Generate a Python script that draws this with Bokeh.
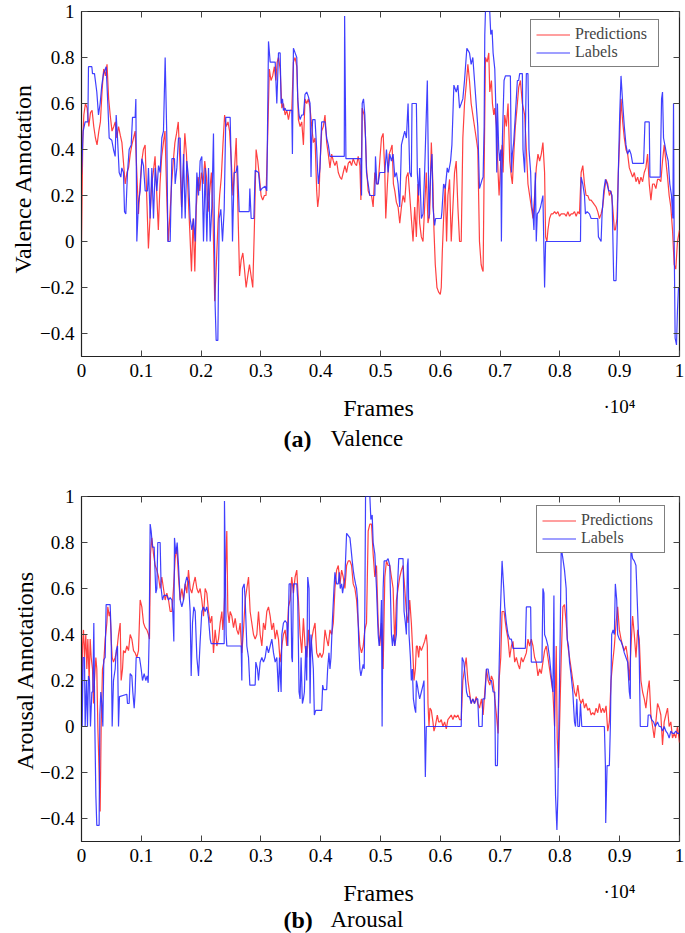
import math
from bokeh.plotting import figure
from bokeh.models import Range1d, LinearAxis, FixedTicker
from bokeh.core.properties import value
from bokeh.layouts import column, row
from bokeh.embed import file_html
from bokeh.resources import INLINE

FONT = "Liberation Serif"

x_ticks = [0, 1000, 2000, 3000, 4000, 5000, 6000, 7000, 8000, 9000, 10000]
x_tick_labels = ["0", "0.1", "0.2", "0.3", "0.4", "0.5", "0.6", "0.7", "0.8", "0.9", "1"]
y_ticks = [-0.4, -0.2, 0, 0.2, 0.4, 0.6, 0.8, 1]
y_tick_labels = ["\u22120.4", "\u22120.2", "0", "0.2", "0.4", "0.6", "0.8", "1"]

# ---- Valence: labels (frame, value) ----
valence_labels = [
    (0,0.29),(28,0.48),(61,0.52),(106,0.52),(117,0.76),(173,0.76),(184,0.73),(217,0.73),(256,0.65),(284,0.55),
    (312,0.6),(340,0.68),(368,0.73),(412,0.76),(440,0.6),(463,0.45),(507,0.44),(535,0.4),(563,0.37),(580,0.55),
    (602,0.45),(630,0.3),(658,0.28),(674,0.32),(702,0.3),(719,0.13),(741,0.12),(769,0.3),(797,0.4),(831,0.42),
    (853,0.54),(897,0.54),(909,0.62),(925,0.0),(953,0.17),(981,0.22),(1009,0.36),(1037,0.33),(1065,0.22),(1104,0.22),
    (1120,0.32),(1148,0.1),(1176,0.32),(1204,0.1),(1232,0.32),(1260,0.22),(1288,0.33),(1315,0.3),(1343,0.45),(1371,0.48),
    (1399,0.8),(1427,0.45),(1444,0.0),(1483,0.0),(1511,0.36),(1555,0.36),(1566,0.25),(1594,0.32),(1622,0.45),(1650,0.45),
    (1678,0.1),(1706,0.38),(1734,0.1),(1761,0.35),(1789,0.28),(1817,0.1),(1845,0.05),(1873,0.1),(1901,0.0),(1929,0.3),
    (1957,0.2),(1984,0.35),(2012,0.37),(2040,0.0),(2068,0.32),(2096,0.0),(2124,0.32),(2152,0.0),(2179,0.15),(2207,0.47),
    (2235,-0.28),(2252,-0.43),(2280,-0.43),(2302,0.1),(2330,0.14),(2358,0.0),(2386,0.14),(2413,0.54),(2486,0.54),(2514,0.2),
    (2525,0.0),(2553,0.3),(2581,0.3),(2609,0.33),(2637,0.13),(2804,0.13),(2815,0.23),(2837,0.1),(2882,0.1),(2904,0.31),
    (2960,0.3),(2988,0.22),(3016,0.23),(3071,0.24),(3099,0.22),(3127,0.87),(3155,0.78),(3239,0.78),(3266,0.6),(3294,0.82),
    (3322,0.82),(3338,0.6),(3361,0.62),(3377,0.57),(3405,0.58),(3416,0.57),(3516,0.57),(3527,0.38),(3544,0.84),(3572,0.82),
    (3600,0.8),(3616,0.62),(3638,0.55),(3655,0.53),(3683,0.55),(3711,0.55),(3738,0.64),(3766,0.65),(3794,0.63),(3822,0.6),
    (3838,0.28),(3850,0.45),(3866,0.53),(3905,0.53),(3933,0.4),(3950,0.3),(3961,0.25),(3988,0.32),(4016,0.52),(4072,0.52),
    (4100,0.45),(4127,0.42),(4155,0.37),(4394,0.37),(4400,0.98),(4422,0.36),(4672,0.36),(4683,0.2),(4694,0.6),(4716,0.62),
    (4738,0.55),(4766,0.3),(4794,0.25),(4822,0.2),(4905,0.2),(4916,0.37),(4939,0.25),(4961,0.25),(4988,0.3),(5072,0.3),
    (5100,0.4),(5127,0.3),(5155,0.38),(5183,0.35),(5211,0.38),(5239,0.28),(5266,0.3),(5294,0.25),(5322,0.15),(5350,0.42),
    (5377,0.45),(5405,0.48),(5433,0.45),(5461,0.6),(5489,0.3),(5516,0.28),(5527,0.6),(5600,0.6),(5616,0.3),(5638,0.2),
    (5655,0.32),(5683,0.1),(5711,0.12),(5738,0.3),(5766,0.55),(5783,0.7),(5811,0.1),(5839,0.3),(5861,0.38),(5877,0.15),
    (5905,0.07),(5922,0.1),(6016,0.1),(6027,0.13),(6055,0.25),(6083,0.23),(6116,0.32),(6138,0.3),(6172,0.35),(6194,0.42),
    (6227,0.68),(6266,0.65),(6294,0.68),(6322,0.58),(6350,0.6),(6377,0.62),(6405,0.7),(6444,0.84),(6488,0.82),(6516,0.77),
    (6544,0.8),(6572,0.7),(6627,0.5),(6655,0.23),(6700,0.27),(6716,0.28),(6733,0.5),(6744,0.9),(6755,1.0),(6827,1.0),
    (6844,0.9),(6866,0.92),(6883,0.82),(6911,0.75),(6927,0.6),(6944,0.3),(6955,0.6),(6977,0.4),(6994,0.35),(7011,0.4),
    (7022,0.0),(7039,0.45),(7066,0.7),(7089,0.72),(7172,0.72),(7189,0.3),(7205,0.38),(7227,0.43),(7255,0.55),(7289,0.7),
    (7311,0.7),(7327,0.73),(7372,0.73),(7383,0.4),(7411,0.3),(7439,0.73),(7466,0.73),(7483,0.4),(7511,0.3),(7522,0.2),
    (7533,0.15),(7550,0.12),(7566,0.05),(7589,0.3),(7605,0.0),(7622,0.12),(7650,0.13),(7677,0.15),(7716,0.2),(7744,-0.2),
    (7761,0.0),(8344,0.0),(8355,0.28),(8383,0.25),(8411,0.2),(8427,0.12),(8455,0.13),(8494,0.12),(8522,0.1),(8633,0.1),
    (8644,0.02),(8689,0.0),(8705,0.12),(8733,0.22),(8761,0.27),(8789,0.25),(8816,0.22),(8844,0.22),(8872,0.2),(8900,-0.17),
    (8939,-0.17),(8955,0.0),(8977,0.3),(9000,0.55),(9022,0.72),(9050,0.6),(9077,0.5),(9105,0.42),(9133,0.38),(9161,0.4),
    (9189,0.38),(9216,0.34),(9400,0.34),(9422,0.52),(9494,0.52),(9505,0.28),(9677,0.28),(9700,0.62),(9716,0.65),(9733,0.45),
    (9755,0.42),(9783,0.38),(9811,0.35),(9838,0.25),(9866,0.2),(9889,0.1),(9900,0.6),(9911,0.0),(9927,-0.42),(9950,-0.45),
    (9966,-0.3),(9983,-0.2),(10000,-0.2),
]

# ---- Valence: predictions ----
valence_predictions = [
    (0,0.0),(22,0.45),(39,0.55),(66,0.6),(94,0.58),(122,0.5),(150,0.56),(177,0.57),(205,0.5),(233,0.45),
    (260,0.42),(290,0.48),(316,0.52),(345,0.66),(371,0.75),(400,0.72),(427,0.77),(454,0.62),(480,0.55),(510,0.48),
    (540,0.5),(565,0.52),(590,0.45),(620,0.5),(650,0.46),(676,0.43),(700,0.35),(731,0.25),(760,0.3),(787,0.32),
    (815,0.38),(842,0.42),(870,0.45),(897,0.48),(925,0.3),(953,0.12),(980,0.25),(1008,0.35),(1035,0.4),(1064,0.42),
    (1090,0.2),(1119,-0.03),(1145,0.1),(1174,0.25),(1200,0.3),(1230,0.37),(1260,0.2),(1285,0.05),(1313,0.25),(1341,0.37),
    (1370,0.43),(1396,0.48),(1425,0.2),(1451,0.0),(1480,0.12),(1507,0.25),(1535,0.35),(1562,0.43),(1590,0.47),(1618,0.52),
    (1645,0.35),(1673,0.15),(1700,0.3),(1728,0.47),(1755,0.38),(1784,0.2),(1810,0.05),(1839,-0.13),(1867,0.1),(1895,-0.13),
    (1920,0.15),(1950,0.28),(1978,0.22),(2005,0.3),(2033,0.25),(2061,0.35),(2090,0.28),(2116,0.13),(2145,0.22),(2172,0.3),
    (2200,0.1),(2227,-0.26),(2255,-0.1),(2283,0.08),(2310,0.2),(2338,0.28),(2365,0.42),(2393,0.55),(2420,0.5),(2450,0.52),
    (2476,0.48),(2505,0.35),(2532,0.2),(2560,0.32),(2587,0.45),(2615,0.15),(2643,-0.15),(2670,-0.08),(2698,-0.05),(2725,-0.12),
    (2753,-0.2),(2780,-0.15),(2809,-0.1),(2836,-0.15),(2864,-0.2),(2890,0.05),(2920,0.4),(2948,0.35),(2975,0.28),(3003,0.2),
    (3030,0.18),(3058,0.2),(3086,0.2),(3113,0.45),(3141,0.75),(3169,0.7),(3197,0.72),(3225,0.76),(3250,0.7),(3272,0.78),
    (3294,0.8),(3322,0.75),(3350,0.58),(3377,0.6),(3405,0.55),(3433,0.57),(3461,0.53),(3488,0.57),(3516,0.57),(3544,0.78),
    (3572,0.8),(3600,0.76),(3627,0.53),(3655,0.5),(3683,0.52),(3711,0.42),(3738,0.62),(3766,0.6),(3794,0.62),(3822,0.58),
    (3850,0.5),(3877,0.43),(3905,0.45),(3933,0.22),(3950,0.15),(3972,0.2),(3988,0.33),(4016,0.48),(4044,0.5),(4072,0.55),
    (4100,0.43),(4127,0.38),(4155,0.32),(4183,0.38),(4211,0.35),(4238,0.33),(4266,0.35),(4294,0.3),(4322,0.28),(4350,0.27),
    (4377,0.3),(4405,0.33),(4433,0.3),(4461,0.34),(4489,0.35),(4516,0.33),(4544,0.36),(4572,0.34),(4600,0.33),(4627,0.37),
    (4655,0.33),(4672,0.18),(4694,0.58),(4727,0.55),(4750,0.45),(4766,0.32),(4794,0.22),(4822,0.2),(4850,0.2),(4877,0.15),
    (4905,0.3),(4933,0.25),(4961,0.25),(4988,0.35),(5016,0.45),(5044,0.47),(5072,0.3),(5088,0.1),(5116,0.25),(5144,0.38),
    (5172,0.4),(5194,0.42),(5216,0.25),(5239,0.22),(5266,0.17),(5294,0.15),(5322,0.08),(5350,0.15),(5377,0.2),(5405,0.17),
    (5433,0.28),(5461,0.3),(5489,0.2),(5516,0.1),(5544,0.0),(5572,0.15),(5600,0.02),(5627,0.25),(5655,0.08),(5683,0.02),
    (5711,0.0),(5738,0.15),(5766,0.3),(5794,0.08),(5822,0.12),(5850,0.43),(5877,0.25),(5894,0.05),(5916,-0.1),(5944,-0.2),
    (5972,-0.22),(6000,-0.23),(6016,-0.2),(6033,-0.05),(6055,0.1),(6083,0.25),(6105,0.0),(6127,0.2),(6155,0.27),(6183,0.0),
    (6211,0.15),(6238,0.3),(6266,0.35),(6294,0.15),(6322,0.0),(6350,0.0),(6377,0.45),(6405,0.6),(6433,0.68),(6461,0.77),
    (6488,0.7),(6516,0.6),(6544,0.55),(6572,0.5),(6600,0.45),(6627,0.4),(6655,0.0),(6683,-0.1),(6700,-0.12),(6716,-0.13),
    (6733,0.3),(6755,0.8),(6783,0.78),(6811,0.82),(6827,0.65),(6855,0.7),(6872,0.6),(6894,0.55),(6911,0.58),(6939,0.5),
    (6966,0.3),(6983,0.2),(7011,0.35),(7033,0.42),(7050,0.3),(7077,0.55),(7105,0.5),(7133,0.6),(7161,0.35),(7189,0.28),
    (7205,0.25),(7233,0.4),(7255,0.5),(7289,0.6),(7311,0.67),(7339,0.7),(7372,0.6),(7411,0.55),(7439,0.4),(7466,0.25),
    (7494,0.2),(7522,0.15),(7550,0.1),(7577,0.2),(7605,0.32),(7633,0.38),(7661,0.35),(7689,0.38),(7716,0.43),(7744,0.3),
    (7761,0.02),(7783,0.0),(7800,0.05),(7827,0.1),(7855,0.12),(7883,0.12),(7911,0.13),(7939,0.12),(7966,0.13),(7994,0.11),
    (8022,0.12),(8050,0.12),(8077,0.12),(8105,0.11),(8133,0.13),(8161,0.11),(8189,0.12),(8216,0.12),(8244,0.13),(8272,0.11),
    (8300,0.13),(8327,0.12),(8355,0.3),(8383,0.33),(8411,0.25),(8438,0.2),(8466,0.2),(8494,0.18),(8522,0.18),(8550,0.17),
    (8577,0.16),(8605,0.15),(8633,0.13),(8661,0.1),(8689,0.12),(8716,0.15),(8744,0.22),(8772,0.27),(8800,0.25),(8827,0.2),
    (8855,0.22),(8883,0.15),(8911,0.05),(8927,0.05),(8955,0.1),(8977,0.3),(9000,0.45),(9022,0.62),(9050,0.52),(9077,0.45),
    (9105,0.4),(9133,0.38),(9161,0.32),(9189,0.3),(9216,0.28),(9244,0.3),(9272,0.26),(9300,0.28),(9327,0.25),(9355,0.28),
    (9383,0.26),(9411,0.3),(9438,0.32),(9466,0.38),(9494,0.25),(9522,0.18),(9550,0.25),(9577,0.25),(9605,0.23),(9633,0.27),
    (9661,0.27),(9688,0.26),(9716,0.35),(9744,0.42),(9772,0.35),(9800,0.28),(9827,0.2),(9855,0.15),(9883,0.05),(9911,-0.1),
    (9938,-0.12),(9966,0.0),(10000,0.05),
]

# ---- Arousal: labels ----
arousal_labels = [
    (0,0.35),(11,0.0),(28,0.3),(50,0.3),(61,0.0),(84,0.2),(100,0.0),(117,0.22),(134,0.2),(150,0.0),
    (173,0.15),(190,0.15),(206,0.45),(223,0.0),(240,-0.3),(256,-0.43),(295,-0.43),(307,0.05),(323,0.15),(340,0.1),
    (357,0.0),(373,0.29),(396,0.3),(412,0.53),(479,0.53),(496,0.4),(513,0.0),(535,0.2),(563,0.25),(580,0.33),
    (602,0.35),(619,0.0),(635,0.13),(758,0.14),(769,0.1),(797,0.1),(814,0.23),(842,0.22),(858,0.15),(881,0.08),
    (897,0.15),(914,0.3),(970,0.3),(998,0.25),(1020,0.2),(1048,0.23),(1076,0.2),(1098,0.22),(1115,0.19),(1132,0.4),
    (1148,0.88),(1165,0.85),(1187,0.78),(1215,0.78),(1243,0.58),(1260,0.6),(1276,0.8),(1315,0.8),(1332,0.6),(1354,0.55),
    (1377,0.57),(1427,0.57),(1455,0.55),(1483,0.56),(1511,0.55),(1527,0.5),(1544,0.37),(1555,0.82),(1577,0.75),(1600,0.8),
    (1622,0.7),(1650,0.55),(1678,0.52),(1706,0.55),(1734,0.62),(1761,0.65),(1789,0.63),(1817,0.5),(1834,0.22),(1856,0.45),
    (1878,0.52),(1901,0.5),(1929,0.3),(1957,0.22),(1984,0.37),(2012,0.5),(2040,0.52),(2068,0.5),(2096,0.52),(2124,0.47),
    (2152,0.38),(2168,0.36),(2386,0.36),(2391,0.98),(2419,0.4),(2430,0.35),(2670,0.35),(2681,0.2),(2692,0.6),(2720,0.62),
    (2737,0.55),(2765,0.35),(2793,0.3),(2815,0.18),(2904,0.18),(2915,0.28),(2943,0.25),(2960,0.2),(2988,0.28),(3016,0.3),
    (3043,0.28),(3071,0.3),(3099,0.35),(3127,0.32),(3155,0.35),(3183,0.38),(3211,0.32),(3239,0.28),(3266,0.3),(3294,0.15),
    (3311,0.3),(3338,0.15),(3350,0.4),(3377,0.45),(3405,0.46),(3433,0.45),(3450,0.35),(3472,0.62),(3500,0.62),(3516,0.3),
    (3527,0.28),(3544,0.62),(3600,0.62),(3616,0.55),(3638,0.15),(3655,0.12),(3672,0.3),(3694,0.1),(3711,0.12),(3727,0.15),
    (3750,0.35),(3766,0.2),(3783,0.65),(3805,0.6),(3822,0.1),(3838,0.4),(3850,0.35),(3877,0.25),(3894,0.05),(3916,0.07),
    (4016,0.07),(4033,0.18),(4050,0.16),(4100,0.16),(4116,0.25),(4138,0.32),(4155,0.25),(4172,0.3),(4194,0.45),(4222,0.6),
    (4238,0.67),(4266,0.62),(4294,0.62),(4311,0.67),(4327,0.6),(4350,0.62),(4366,0.58),(4388,0.62),(4405,0.65),(4433,0.84),
    (4461,0.83),(4489,0.82),(4505,0.78),(4527,0.72),(4544,0.68),(4561,0.65),(4583,0.62),(4600,0.6),(4616,0.55),(4638,0.35),
    (4655,0.25),(4672,0.22),(4694,0.25),(4711,0.27),(4727,0.25),(4738,0.5),(4750,1.0),(4822,1.0),(4839,0.9),(4861,0.92),
    (4877,0.8),(4905,0.75),(4933,0.6),(4961,0.4),(4977,0.35),(5000,0.4),(5016,0.55),(5027,0.0),(5044,0.6),(5061,0.72),
    (5100,0.72),(5127,0.73),(5155,0.7),(5183,0.4),(5200,0.35),(5216,0.4),(5239,0.35),(5266,0.4),(5283,0.6),(5305,0.73),
    (5377,0.73),(5394,0.5),(5416,0.45),(5433,0.4),(5450,0.7),(5461,0.73),(5477,0.4),(5500,0.3),(5516,0.2),(5533,0.25),
    (5550,0.12),(5572,0.08),(5589,0.06),(5600,0.2),(5616,0.18),(5633,0.15),(5655,0.12),(5683,0.15),(5711,0.18),(5727,0.2),
    (5738,0.0),(5750,-0.22),(5766,0.0),(6350,0.0),(6366,0.3),(6394,0.28),(6416,0.22),(6439,0.15),(6461,0.13),(6488,0.13),
    (6516,0.1),(6544,0.12),(6572,0.1),(6600,0.12),(6627,0.12),(6644,0.0),(6700,0.0),(6711,0.12),(6744,0.12),(6772,0.25),
    (6800,0.25),(6827,0.2),(6855,0.2),(6883,0.15),(6911,0.15),(6922,-0.17),(6955,-0.17),(6966,0.0),(6983,0.25),(7005,0.5),
    (7033,0.72),(7061,0.6),(7077,0.52),(7105,0.45),(7133,0.4),(7161,0.38),(7189,0.38),(7216,0.34),(7422,0.34),(7439,0.52),
    (7511,0.52),(7522,0.28),(7700,0.28),(7716,0.6),(7733,0.58),(7744,0.4),(7772,0.38),(7800,0.35),(7827,0.3),(7855,0.22),
    (7883,0.15),(7900,0.57),(7911,0.0),(7927,-0.3),(7950,-0.45),(7966,-0.3),(7983,0.0),(8005,0.4),(8022,0.78),(8050,0.73),
    (8077,0.68),(8105,0.6),(8122,0.38),(8144,0.35),(8161,0.28),(8189,0.22),(8216,0.15),(8244,0.02),(8261,0.0),(8283,0.12),
    (8300,0.0),(8327,0.0),(8344,0.1),(8366,0.0),(8744,0.0),(8761,-0.17),(8766,-0.42),(8789,-0.17),(8827,-0.17),(8844,0.0),
    (8866,0.4),(8889,0.42),(8911,0.4),(8927,0.62),(8950,0.55),(8966,0.4),(8994,0.38),(9022,0.37),(9050,0.35),(9077,0.32),
    (9105,0.3),(9133,0.28),(9161,0.15),(9177,0.12),(9189,0.78),(9216,0.73),(9244,0.72),(9272,0.7),(9300,0.5),(9327,0.3),
    (9344,0.0),(9466,0.0),(9477,0.05),(9511,0.05),(9533,0.03),(9566,0.02),(9594,0.0),(9633,0.02),(9661,0.0),(9688,0.0),
    (9716,-0.02),(9744,0.0),(9772,-0.02),(9800,-0.03),(9827,-0.05),(9855,-0.02),(9883,-0.03),(9911,-0.03),(9938,-0.02),(9966,-0.03),
    (10000,-0.03),
]

# ---- Arousal: predictions ----
arousal_predictions = [
    (0,0.0),(17,0.35),(33,0.42),(50,0.3),(72,0.4),(89,0.25),(106,0.38),(128,0.2),(145,0.38),(162,0.3),
    (184,0.25),(201,0.1),(217,0.2),(240,0.3),(256,0.25),(273,0.0),(295,-0.2),(312,-0.37),(329,0.0),(351,0.25),
    (373,0.28),(396,0.38),(424,0.45),(440,0.52),(463,0.48),(479,0.5),(496,0.38),(513,0.3),(535,0.28),(563,0.3),
    (591,0.33),(619,0.4),(647,0.45),(663,0.2),(686,0.25),(702,0.33),(730,0.32),(758,0.35),(786,0.33),(814,0.4),
    (842,0.38),(870,0.33),(897,0.32),(925,0.3),(953,0.33),(981,0.55),(1009,0.52),(1037,0.45),(1065,0.43),(1093,0.42),
    (1120,0.4),(1137,0.38),(1154,0.75),(1176,0.82),(1204,0.75),(1232,0.7),(1260,0.68),(1288,0.65),(1315,0.6),(1343,0.65),
    (1371,0.6),(1399,0.55),(1427,0.58),(1455,0.55),(1483,0.5),(1511,0.5),(1538,0.6),(1566,0.73),(1594,0.78),(1622,0.65),
    (1650,0.55),(1678,0.6),(1706,0.55),(1734,0.62),(1761,0.58),(1789,0.68),(1817,0.6),(1845,0.58),(1873,0.62),(1901,0.65),
    (1929,0.6),(1957,0.58),(1984,0.6),(2012,0.55),(2040,0.48),(2068,0.6),(2096,0.58),(2124,0.5),(2152,0.45),(2179,0.48),
    (2207,0.32),(2235,0.42),(2263,0.35),(2291,0.38),(2319,0.45),(2347,0.5),(2363,0.42),(2380,0.48),(2402,0.62),(2430,0.85),
    (2447,0.5),(2469,0.45),(2486,0.5),(2514,0.48),(2542,0.43),(2570,0.47),(2597,0.42),(2625,0.4),(2653,0.45),(2681,0.32),
    (2709,0.42),(2737,0.55),(2765,0.6),(2793,0.65),(2820,0.5),(2848,0.45),(2876,0.4),(2904,0.38),(2932,0.4),(2960,0.5),
    (2988,0.4),(3016,0.35),(3043,0.45),(3071,0.42),(3099,0.5),(3127,0.52),(3155,0.48),(3183,0.42),(3211,0.45),(3239,0.38),
    (3266,0.42),(3294,0.38),(3322,0.28),(3350,0.35),(3377,0.4),(3405,0.42),(3433,0.35),(3461,0.52),(3488,0.55),(3516,0.65),
    (3544,0.58),(3572,0.65),(3600,0.68),(3627,0.55),(3655,0.4),(3683,0.32),(3711,0.47),(3738,0.35),(3766,0.3),(3794,0.42),
    (3822,0.3),(3850,0.38),(3877,0.42),(3905,0.45),(3933,0.32),(3961,0.3),(3988,0.32),(4016,0.3),(4044,0.32),(4072,0.42),
    (4100,0.38),(4127,0.35),(4155,0.42),(4183,0.4),(4211,0.45),(4238,0.6),(4266,0.68),(4294,0.7),(4322,0.62),(4350,0.68),
    (4377,0.65),(4405,0.6),(4433,0.7),(4461,0.72),(4489,0.72),(4516,0.7),(4544,0.62),(4572,0.6),(4600,0.55),(4627,0.45),
    (4655,0.35),(4683,0.32),(4711,0.35),(4738,0.42),(4766,0.45),(4794,0.85),(4822,0.88),(4850,0.88),(4877,0.75),(4905,0.65),
    (4933,0.7),(4961,0.45),(4988,0.35),(5016,0.45),(5044,0.25),(5072,0.65),(5100,0.72),(5127,0.7),(5155,0.7),(5183,0.65),
    (5211,0.6),(5239,0.35),(5266,0.55),(5294,0.6),(5322,0.65),(5350,0.68),(5377,0.7),(5405,0.6),(5433,0.5),(5461,0.45),
    (5489,0.55),(5516,0.45),(5544,0.3),(5561,0.2),(5583,0.25),(5600,0.35),(5616,0.35),(5638,0.3),(5655,0.35),(5683,0.33),
    (5711,0.35),(5738,0.37),(5766,0.4),(5783,0.35),(5794,0.1),(5811,0.0),(5827,0.08),(5850,0.07),(5877,0.02),(5894,-0.02),
    (5916,0.0),(5950,0.05),(5972,0.02),(5994,0.02),(6016,0.03),(6044,0.0),(6072,0.02),(6100,-0.01),(6127,0.03),(6155,0.04),
    (6183,0.05),(6211,0.03),(6238,0.05),(6266,0.04),(6294,0.05),(6322,0.03),(6350,0.03),(6377,0.2),(6405,0.25),(6433,0.3),
    (6461,0.2),(6488,0.15),(6516,0.1),(6544,0.12),(6572,0.1),(6600,0.13),(6627,0.1),(6655,0.08),(6689,0.12),(6716,0.05),
    (6744,0.15),(6772,0.25),(6800,0.2),(6827,0.18),(6855,0.22),(6883,0.2),(6911,0.12),(6939,0.05),(6966,-0.03),(6983,0.2),
    (7011,0.3),(7033,0.5),(7066,0.5),(7089,0.45),(7105,0.42),(7133,0.38),(7161,0.3),(7189,0.35),(7216,0.37),(7244,0.28),
    (7272,0.3),(7300,0.27),(7327,0.25),(7355,0.3),(7383,0.28),(7411,0.3),(7439,0.32),(7466,0.38),(7494,0.35),(7522,0.38),
    (7550,0.35),(7577,0.3),(7605,0.28),(7633,0.22),(7661,0.25),(7689,0.23),(7716,0.28),(7744,0.33),(7772,0.35),(7800,0.3),
    (7827,0.25),(7855,0.2),(7883,0.15),(7911,0.0),(7939,0.35),(7955,-0.05),(7977,-0.18),(7994,0.0),(8022,0.3),(8050,0.52),
    (8077,0.53),(8105,0.45),(8133,0.35),(8161,0.3),(8189,0.25),(8216,0.2),(8244,0.15),(8272,0.13),(8300,0.18),(8327,0.12),
    (8355,0.1),(8383,0.12),(8411,0.08),(8438,0.1),(8466,0.07),(8494,0.08),(8522,0.05),(8550,0.06),(8577,0.05),(8605,0.08),
    (8633,0.06),(8661,0.1),(8689,0.06),(8716,0.08),(8744,0.06),(8772,0.09),(8800,-0.02),(8827,0.02),(8855,0.2),(8883,0.28),
    (8911,0.35),(8939,0.45),(8966,0.52),(8994,0.42),(9022,0.38),(9050,0.35),(9077,0.33),(9105,0.35),(9133,0.3),(9161,0.2),
    (9189,0.35),(9216,0.48),(9244,0.4),(9272,0.3),(9300,0.42),(9327,0.38),(9355,0.2),(9383,0.15),(9411,0.12),(9438,0.08),
    (9466,0.15),(9494,0.2),(9522,0.05),(9550,0.0),(9577,-0.05),(9605,0.02),(9633,0.1),(9661,0.08),(9688,0.05),(9716,-0.08),
    (9744,0.02),(9772,0.05),(9800,0.08),(9827,0.0),(9855,0.02),(9883,-0.05),(9911,-0.03),(9938,-0.05),(9966,0.0),(10000,-0.07),
]

RED = "#ff2b2b"
BLUE = "#2b2bff"

LEFT_W = 36
MAIN_W = 685 - LEFT_W


def text_canvas(width, height):
    t = figure(width=width, height=height, x_range=Range1d(0, width), y_range=Range1d(height, 0),
               output_backend="svg", toolbar_location=None, x_axis_type=None, y_axis_type=None,
               min_border=0, min_border_left=0, min_border_right=0, min_border_top=0,
               min_border_bottom=0, outline_line_color=None)
    t.background_fill_color = "white"
    t.border_fill_color = "white"
    return t


def make_main(height, top_border, bottom_border, preds, labels, legend_xy):
    p = figure(width=MAIN_W, height=height, x_range=Range1d(0, 10000), y_range=Range1d(-0.5, 1.0),
               output_backend="svg", toolbar_location=None,
               min_border_left=81 - LEFT_W, min_border_right=6, min_border_top=top_border,
               min_border_bottom=bottom_border)
    p.xgrid.visible = False
    p.ygrid.visible = False
    p.outline_line_color = "#222222"
    p.outline_line_width = 1.2
    p.background_fill_color = "white"
    p.border_fill_color = "white"

    for ax in p.xaxis:
        ax.ticker = FixedTicker(ticks=x_ticks)
        ax.major_label_overrides = dict(zip(x_ticks, x_tick_labels))
    for ax in p.yaxis:
        ax.ticker = FixedTicker(ticks=y_ticks)
        ax.major_label_overrides = dict(zip(y_ticks, y_tick_labels))
    for ax in list(p.xaxis) + list(p.yaxis):
        ax.major_tick_in = 6
        ax.major_tick_out = 0
        ax.minor_tick_in = 0
        ax.minor_tick_out = 0
        ax.major_tick_line_color = "#444444"
        ax.axis_line_color = "#222222"
        ax.major_label_text_font = FONT
        ax.major_label_text_font_size = "19px"
        ax.major_label_text_color = "black"
    p.xaxis.major_label_standoff = 7
    p.yaxis.major_label_standoff = 7

    top = LinearAxis(ticker=FixedTicker(ticks=x_ticks), major_label_text_font_size="0px",
                     major_label_text_color=None,
                     major_label_standoff=0, major_tick_in=6, major_tick_out=0,
                     minor_tick_in=0, minor_tick_out=0, axis_line_color=None,
                     major_tick_line_color="#444444")
    right = LinearAxis(ticker=FixedTicker(ticks=y_ticks), major_label_text_font_size="0px",
                       major_label_text_color=None,
                       major_label_standoff=0, major_tick_in=6, major_tick_out=0,
                       minor_tick_in=0, minor_tick_out=0, axis_line_color=None,
                       major_tick_line_color="#444444")
    p.add_layout(top, "above")
    p.add_layout(right, "right")

    px, py = zip(*preds)
    lx, ly = zip(*labels)
    p.line(list(px), list(py), color=RED, line_width=1.2, line_alpha=0.9, legend_label="Predictions")
    p.line(list(lx), list(ly), color=BLUE, line_width=1.2, line_alpha=0.9, legend_label="Labels")

    lg = p.legend[0]
    lg.location = legend_xy
    lg.label_text_font = FONT
    lg.label_text_font_size = "16px"
    lg.glyph_width = 34
    lg.glyph_height = 17
    lg.label_height = 17
    lg.label_width = 78
    lg.label_standoff = 5
    lg.padding = 5
    lg.spacing = 0
    lg.margin = 0
    lg.border_line_color = "black"
    lg.border_line_width = 1.2
    lg.background_fill_alpha = 1.0
    return p


def ylabel_canvas(height, text, y_center, x_base):
    t = text_canvas(LEFT_W, height)
    t.text(x=[x_base], y=[y_center], text=[text], angle=math.pi / 2,
           text_align="center", text_baseline="alphabetic",
           text_font=value(FONT), text_font_size=value("24px"), text_color="black")
    return t


def bottom_canvas(height, tag, caption, frames_y, caption_y):
    t = text_canvas(685, height)
    t.text(x=[378], y=[frames_y], text=["Frames"], text_align="center", text_baseline="alphabetic",
           text_font=value(FONT), text_font_size=value("24px"), text_color="black")
    t.text(x=[603], y=[frames_y - 1], text=["\u00b710\u2074"], text_align="left",
           text_baseline="alphabetic", text_font=value(FONT), text_font_size=value("19px"),
           text_color="black")
    t.text(x=[283], y=[caption_y], text=[tag], text_align="left", text_baseline="alphabetic",
           text_font=value(FONT), text_font_size=value("24px"), text_font_style=value("bold"),
           text_color="black")
    t.text(x=[330], y=[caption_y], text=[caption], text_align="left", text_baseline="alphabetic",
           text_font=value(FONT), text_font_size=value("23px"), text_color="black")
    return t


# panel (a): page rows 0-386 plot, 386-452 texts
main1 = make_main(386, 11, 30, valence_predictions, valence_labels, (449, 289))
left1 = ylabel_canvas(386, "Valence Annotation", 187, 22)
bot1 = bottom_canvas(66, "(a)", "Valence", 21, 52)

# panel (b): page rows 452-871 plot, 871-933 texts
main2 = make_main(419, 44, 30, arousal_predictions, arousal_labels, (455, 288))
left2 = ylabel_canvas(419, "Arousal Annotations", 211, 24)
bot2 = bottom_canvas(62, "(b)", "Arousal", 21, 48)

layout = column(row(left1, main1), bot1, row(left2, main2), bot2)
open("out.html", "w").write(file_html(layout, INLINE))
